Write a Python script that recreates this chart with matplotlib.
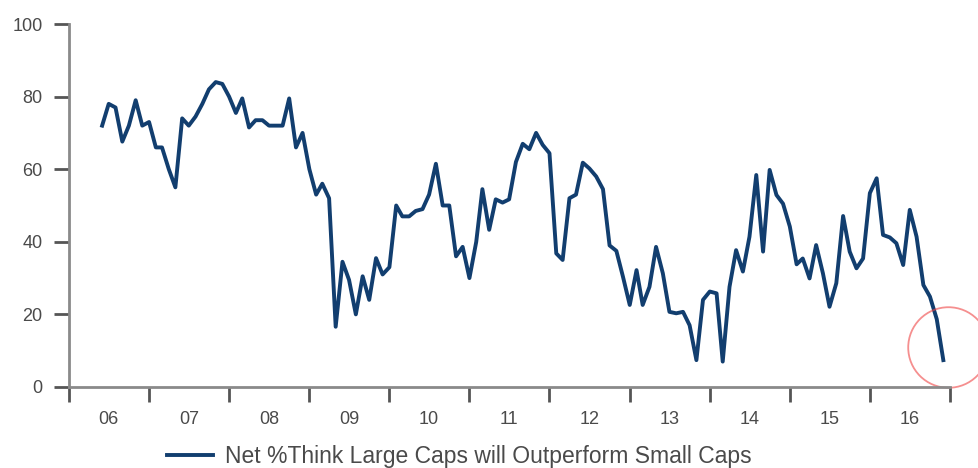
import matplotlib
matplotlib.use("Agg")
import matplotlib.pyplot as plt
import matplotlib.transforms as mtransforms
import pandas as pd

# monthly survey readings, Jun 2006 .. Dec 2016
values = [72, 78, 77, 67.6, 72, 79, 72, 73, 66, 66, 60, 55,
          74, 72, 74.5, 78, 82, 84, 83.5, 80, 75.5, 79.5, 71.5, 73.5,
          73.5, 72, 72, 72, 79.5, 66, 70, 60, 53, 56, 52, 16.6,
          34.5, 29.5, 20, 30.5, 24, 35.5, 31, 33, 50, 47, 47, 48.5,
          49, 53, 61.5, 50, 50, 36, 38.6, 30, 40, 54.5, 43.3, 51.7,
          50.8, 51.7, 62, 67, 65.5, 70, 66.7, 64.4, 36.8, 35, 52, 53,
          61.8, 60.2, 58, 54.5, 39, 37.5, 30.4, 22.6, 32.2, 22.6, 27.6, 38.6,
          31.3, 20.7, 20.3, 20.7, 17, 7.4, 24, 26.3, 25.8, 7, 27.6, 37.7,
          31.8, 41.4, 58.4, 37.3, 59.8, 52.9, 50.5, 44.2, 33.8, 35.4, 29.9, 39.1,
          31.3, 22.1, 28.6, 47.1, 37.3, 32.7, 35.4, 53.4, 57.5, 41.9, 41.2, 39.6,
          33.6, 48.8, 41.4, 28.1, 24.9, 18.7, 7.4]
start_month = "2006-06-01"
years = list(range(2006, 2017))
year_labels = ["06", "07", "08", "09", "10", "11", "12", "13", "14", "15", "16"]
series_name = "Net %Think Large Caps will Outperform Small Caps"

dates = pd.date_range(start_month, periods=len(values), freq="MS")

plt.rcParams['font.family'] = ['Liberation Sans', 'DejaVu Sans']

fig = plt.figure(figsize=(9.79, 4.68), dpi=100)
ax = fig.add_axes([0.0705, 0.1731, 0.9, 0.7756])

line, = ax.plot(dates, values, color='#123e6f', lw=2.8, solid_joinstyle='round',
                label=series_name)

ax.set_ylim(0, 100)
ax.set_xlim(pd.Timestamp(f"{years[0]}-01-01"), pd.Timestamp(f"{years[-1] + 1}-01-01"))
ax.set_yticks([0, 20, 40, 60, 80, 100])

ax.set_xticks([pd.Timestamp(f"{y}-01-01") for y in years + [years[-1] + 1]])
ax.set_xticklabels([])
ax.set_xticks([pd.Timestamp(f"{y}-07-01") for y in years], minor=True)
ax.set_xticklabels(year_labels, minor=True)

for s in ['top', 'right']:
    ax.spines[s].set_visible(False)
for s in ['left', 'bottom']:
    ax.spines[s].set_color('#8a8a8a')
    ax.spines[s].set_linewidth(2)

ax.tick_params(axis='both', which='major', direction='out', length=11, width=2,
               color='#555555', labelsize=13, labelcolor='#4a4a4a')
ax.tick_params(axis='y', pad=8)
ax.tick_params(axis='x', which='minor', length=0, pad=17, labelsize=13, labelcolor='#4a4a4a')

# red highlight ring around the latest reading
shift = mtransforms.ScaledTranslation(5 / 100, 13 / 100, fig.dpi_scale_trans)
ax.plot([dates[-1]], [values[-1]], marker='o', ms=58, mfc='none', mec='#ef4444',
        mew=1.3, alpha=0.6, clip_on=False, transform=ax.transData + shift)

fig.legend(handles=[line], loc='center left', bbox_to_anchor=(0.150, 0.024),
           frameon=False, fontsize=16.5, handlelength=2.0, handletextpad=0.5,
           labelcolor='#4a4a4a')

fig.savefig("out.png", dpi=100)
